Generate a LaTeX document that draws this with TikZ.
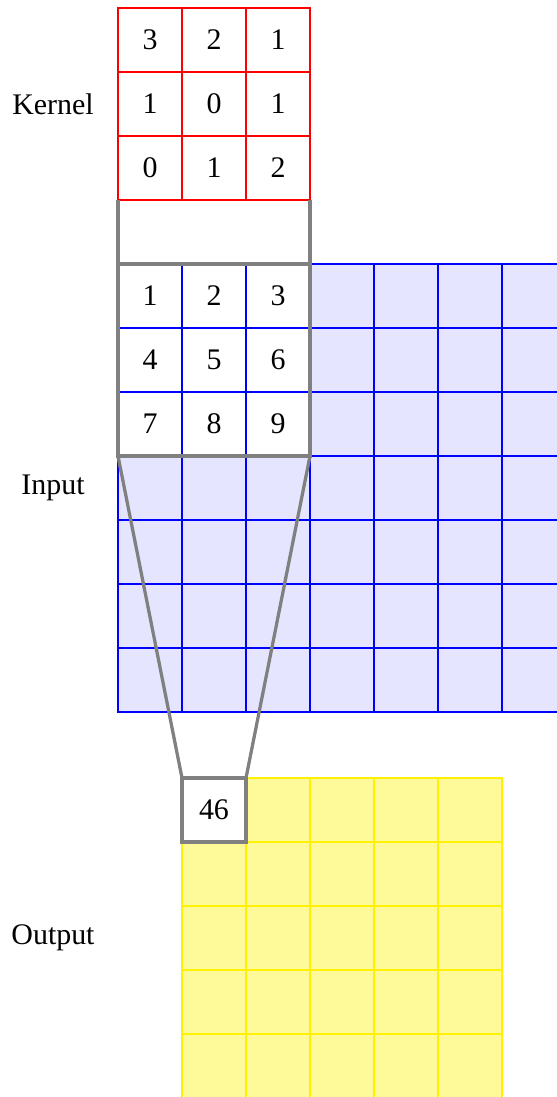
\documentclass[tikz,border=0pt]{standalone}
\usepackage{fontspec}
\setmainfont{Liberation Serif}
\begin{document}
\begin{tikzpicture}[x=1cm,y=1cm,
  font=\fontsize{13.3}{16}\selectfont,
  cellbase/.style={rectangle,inner sep=0pt,outer sep=0pt,minimum size=1cm,line width=0.85pt},
  kcell/.style={cellbase,draw=red,fill=white},
  icell/.style={cellbase,draw=blue,fill=blue!10},
  wcell/.style={cellbase,draw=blue,fill=white},
  ocell/.style={cellbase,draw=yellow,fill=yellow!40},
  proj/.style={draw=gray,line width=1.45pt},
  lbl/.style={inner sep=0pt}]
\useasboundingbox[fill=white] (0,0) rectangle (557/64,-1097/64);
\def\xa{1.84375}
\def\xo{2.84375}
\def\kt{-0.125}
\def\it{-4.125}
\def\ot{-12.15625}
% input grid
\foreach \r in {1,...,7}{
  \foreach \c in {1,...,7}{
    \node[icell] (i-\r-\c) at ({\xa+\c-0.5},{\it-\r+0.5}) {};
  }
}
% window cells
\foreach \v [count=\n from 0] in {1,2,3,4,5,6,7,8,9}{
  \pgfmathtruncatemacro{\r}{int(\n/3)+1}
  \pgfmathtruncatemacro{\c}{mod(\n,3)+1}
  \node[wcell] (w-\r-\c) at ({\xa+\c-0.5},{\it-\r+0.5}) {\v};
}
% output grid
\foreach \r in {1,...,5}{
  \foreach \c in {1,...,5}{
    \node[ocell] (o-\r-\c) at ({\xo+\c-0.5},{\ot-\r+0.5}) {};
  }
}
\node[cellbase,fill=white,draw=gray,line width=1.45pt] (res) at (o-1-1) {46};
% kernel
\foreach \v [count=\n from 0] in {3,2,1,1,0,1,0,1,2}{
  \pgfmathtruncatemacro{\r}{int(\n/3)+1}
  \pgfmathtruncatemacro{\c}{mod(\n,3)+1}
  \node[kcell] (k-\r-\c) at ({\xa+\c-0.5},{\kt-\r+0.5}) {\v};
}
% projections
\draw[proj] (k-3-1.south west) -- (w-1-1.north west);
\draw[proj] (k-3-3.south east) -- (w-1-3.north east);
\draw[proj] (w-1-1.north west) rectangle (w-3-3.south east);
\draw[proj] (w-3-1.south west) -- (res.north west);
\draw[proj] (w-3-3.south east) -- (res.north east);
% labels
\node[lbl] (lk) at (53/64,{\kt-1.5}) {Kernel};
\node[lbl] (li) at (53/64,{\it-3.5}) {Input};
\node[lbl] (lo) at (53/64,{\ot-2.5}) {Output};
\end{tikzpicture}
\end{document}
